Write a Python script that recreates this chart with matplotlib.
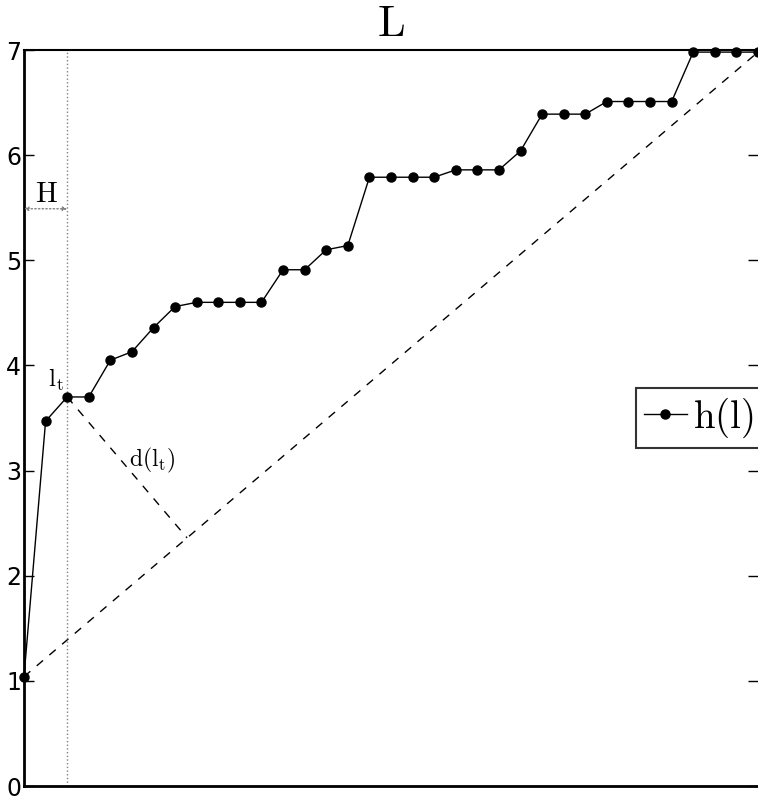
import numpy as np
import matplotlib
matplotlib.use("Agg")
import matplotlib.pyplot as plt

plt.rcParams["mathtext.fontset"] = "cm"

# h(l) sampled at each step l
steps = list(range(35))
h_values = [1.04, 3.47, 3.70, 3.70, 4.05, 4.13, 4.36, 4.56, 4.60, 4.60,
            4.60, 4.60, 4.91, 4.91, 5.10, 5.14, 5.79, 5.79, 5.79, 5.79,
            5.86, 5.86, 5.86, 6.04, 6.39, 6.39, 6.39, 6.51, 6.51, 6.51,
            6.51, 6.98, 6.98, 6.98, 6.98]
t_index = 2          # the point l_t
y_ticks = [0, 1, 2, 3, 4, 5, 6, 7]

fig = plt.figure(figsize=(7.58, 8), dpi=100)
ax = fig.add_axes([24 / 758, 14 / 800, 734 / 758, 736 / 800])
ax.set_xlim(0, 34)
ax.set_ylim(0, 7)

ax.plot(steps, h_values, "k-", marker="o", markersize=6.5, linewidth=1,
        label=r"$\mathrm{h(l)}$", clip_on=False, zorder=5)

# chord from first to last point
ax.plot([steps[0], steps[-1]], [h_values[0], h_values[-1]], "k--",
        linewidth=1, dashes=(6, 6))

# foot of the perpendicular from l_t onto the chord (in screen space)
tr = ax.transData
a = tr.transform((steps[0], h_values[0]))
b = tr.transform((steps[-1], h_values[-1]))
p = tr.transform((steps[t_index], h_values[t_index]))
d = b - a
foot = a + d * np.dot(p - a, d) / np.dot(d, d)
fx, fy = tr.inverted().transform(foot)
ax.plot([steps[t_index], fx], [h_values[t_index], fy], "k--",
        linewidth=1, dashes=(6, 6))

# window H
ax.axvline(steps[t_index], color="gray", linestyle=":", linewidth=1)
ax.annotate("", xy=(0, 5.49), xytext=(steps[t_index], 5.49),
            arrowprops=dict(arrowstyle="<|-|>", linestyle=":", color="gray",
                            mutation_scale=6, shrinkA=0, shrinkB=0,
                            linewidth=1))
ax.text(1.02, 5.55, r"$\mathrm{H}$", fontsize=21, ha="center", va="baseline")

ax.text(1.5, 3.80, r"$\mathrm{l_t}$", fontsize=18, ha="center", va="baseline")
ax.text(5.95, 3.04, r"$\mathrm{d(l_t)}$", fontsize=17, ha="center",
        va="baseline")

ax.set_title(r"$\mathrm{L}$", fontsize=32, pad=10)

ax.set_xticks([])
ax.set_yticks(y_ticks)
ax.set_yticklabels([str(v) for v in y_ticks], fontsize=17)
ax.tick_params(axis="y", direction="in", length=7, width=1, pad=2,
               right=True)
ax.spines["right"].set_visible(False)
for side in ["left", "bottom"]:
    ax.spines[side].set_linewidth(2)
ax.spines["top"].set_linewidth(1.5)

leg = ax.legend(loc="center left", bbox_to_anchor=(0.834, 0.5),
                fontsize=28, frameon=True, fancybox=False,
                handlelength=1.1, handletextpad=0.15, borderpad=0.2,
                borderaxespad=0)
leg.get_frame().set_edgecolor("black")
leg.get_frame().set_linewidth(1.5)

fig.savefig("out.png", dpi=100)
